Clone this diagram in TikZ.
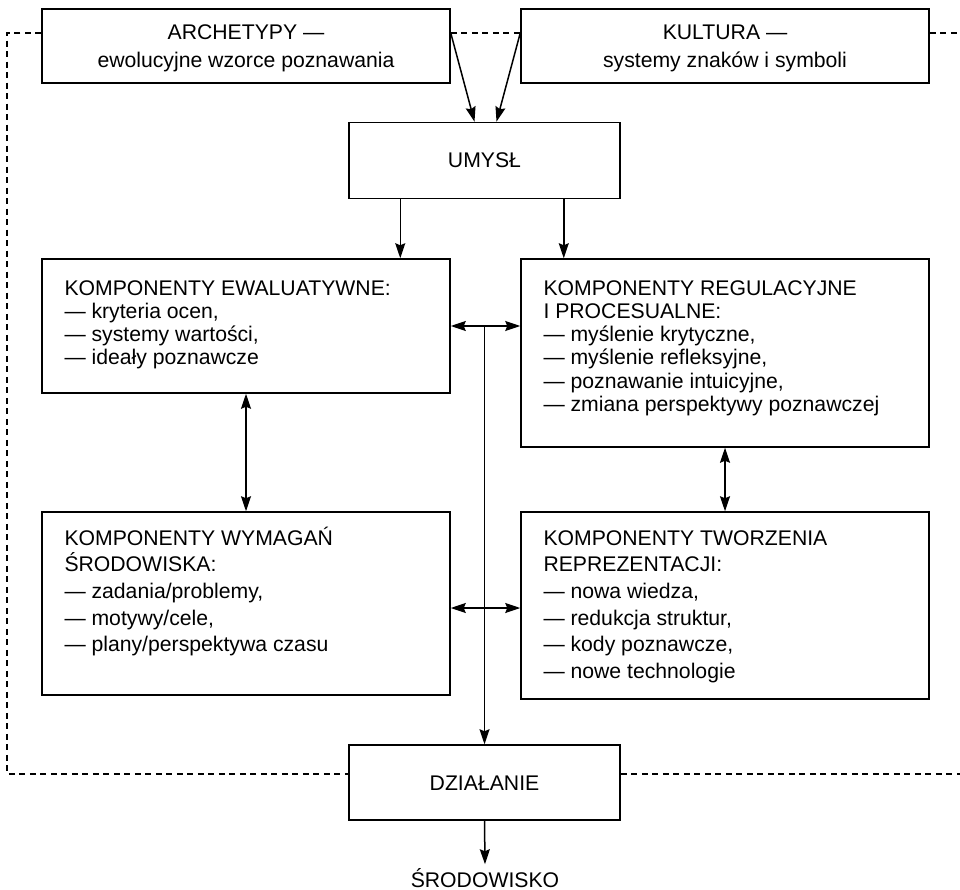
\documentclass[tikz,border=0pt]{standalone}
\usepackage{fontspec}
\setmainfont{Liberation Sans}
\tikzset{>=stealth}
\usetikzlibrary{arrows.meta}
\tikzset{>={Stealth[length=15pt,width=10pt,inset=2pt]}}
\newcommand{\wys}{\rule{0pt}{20pt}}
\tikzset{
  gora/.style={draw, inner sep=0pt, minimum width=408pt, minimum height=74pt, align=center, font=\fontsize{21.2}{28}\selectfont},
  srodek/.style={draw, inner sep=0pt, minimum width=271pt, minimum height=76pt, text height=15pt, text depth=0pt, font=\fontsize{21.2}{23}\selectfont},
  komp/.style={draw, inner sep=0pt, minimum width=408pt},
  opis/.style={anchor=north west, inner sep=0pt, align=left, font=\fontsize{21.2}{23.3}\selectfont},
  opisb/.style={opis, font=\fontsize{21.2}{26.7}\selectfont},
  zwrot/.style={dash pattern=on 6pt off 4.5pt, line width=1.1pt}
}

\begin{document}
\begin{tikzpicture}[x=1pt,y=-1pt,line width=1.5pt]
\useasboundingbox (0,0) rectangle (960,890);

% zrodla
\node[gora] (arch) at (246,46) {\wys ARCHETYPY —\\ewolucyjne wzorce poznawania};
\node[gora] (kult) at (725,46) {\wys KULTURA —\\systemy znaków i symboli};
\node[srodek] (umysl) at (484.5,160.5) {UMYSŁ};

% komponenty
\node[komp, minimum height=134pt] (ewal) at (246,326) {};
\node[komp, minimum height=188pt] (regul) at (725,353) {};
\node[komp, minimum height=183pt] (wymag) at (246,603.5) {};
\node[komp, minimum height=187pt] (tworz) at (725,605.5) {};

\node[opis] (ewal-t) at ([shift={(22.5,16)}]ewal.north west)
  {\wys KOMPONENTY EWALUATYWNE:\\— kryteria ocen,\\— systemy wartości,\\— ideały poznawcze};
\node[opis] (regul-t) at ([shift={(22.5,16)}]regul.north west)
  {\wys KOMPONENTY REGULACYJNE\\I PROCESUALNE:\\— myślenie krytyczne,\\— myślenie refleksyjne,\\— poznawanie intuicyjne,\\— zmiana perspektywy poznawczej};
\node[opisb] (wymag-t) at ([shift={(22.5,13)}]wymag.north west)
  {\wys KOMPONENTY WYMAGAŃ\\ŚRODOWISKA:\\— zadania/problemy,\\— motywy/cele,\\— plany/perspektywa czasu};
\node[opisb] (tworz-t) at ([shift={(22.5,13)}]tworz.north west)
  {\wys KOMPONENTY TWORZENIA\\REPREZENTACJI:\\— nowa wiedza,\\— redukcja struktur,\\— kody poznawcze,\\— nowe technologie};

\node[srodek, minimum height=75pt] (dzial) at (484.5,782.5) {DZIAŁANIE};
\node[inner sep=3pt, anchor=base, font=\fontsize{21.2}{23}\selectfont] (srod) at (485,887) {ŚRODOWISKO};

% sprzezenie zwrotne
\coordinate (tl) at (7,33);
\coordinate (tr) at (960,33);
\coordinate (bl) at (7,774);
\coordinate (br) at (960,774);
\draw[zwrot] (arch.west |- tl) -- (tl) -- (bl) -- (bl -| dzial.west);
\draw[zwrot] (arch.east |- tl) -- (kult.west |- tl);
\draw[zwrot] (kult.east |- tl) -- (tr);
\draw[zwrot] (dzial.east |- br) -- (br);

% strzalki
\draw[->] (arch.east |- tl) -- ([xshift=-10pt]umysl.north);
\draw[->] (kult.west |- tl) -- ([xshift=12pt]umysl.north);
\draw[->] ([xshift=52pt]umysl.south west) coordinate (u1) -- (u1 |- ewal.north);
\draw[->] ([xshift=-57pt]umysl.south east) coordinate (u2) -- (u2 |- regul.north);
\draw[<->] (ewal.south) -- (wymag.north);
\draw[<->] (regul.south) -- (tworz.north);
\draw[<->] (ewal.east) -- (ewal.east -| regul.west);
\draw[<->] ([yshift=-4.5pt]wymag.east) coordinate (w1) -- (w1 -| tworz.west);
\draw[->] (dzial.north |- ewal.east) -- (dzial.north);
\draw[->] (dzial.south) -- (srod.north);
\end{tikzpicture}
\end{document}
